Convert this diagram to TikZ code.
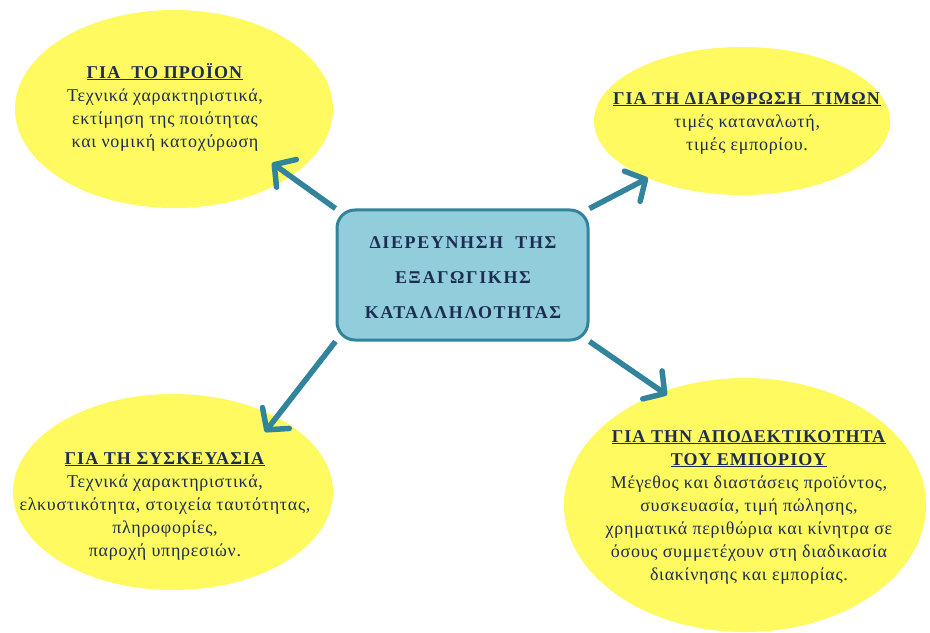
\documentclass[tikz,border=0pt]{standalone}
\usepackage{fontspec}
\setmainfont{Liberation Serif}
\usetikzlibrary{arrows.meta,shapes.geometric}
\definecolor{ylw}{RGB}{255,250,95}
\definecolor{boxfill}{RGB}{146,205,220}
\definecolor{arrowc}{RGB}{49,132,155}
\definecolor{txt}{RGB}{28,44,82}
\newcommand{\ttl}[1]{\underline{\textbf{\addfontfeature{LetterSpace=6}#1}}}
\begin{document}
\begin{tikzpicture}[x=1bp,y=-1bp,
  bubble/.style={ellipse, fill=ylw, draw=none, inner sep=0pt},
  txtnode/.style={text=txt, align=center, inner sep=0pt,
    font=\fontsize{18bp}{23bp}\selectfont\addfontfeature{LetterSpace=4}},
  hub/.style={rectangle, rounded corners=18bp, fill=boxfill, draw=arrowc,
    line width=3bp, minimum width=251bp, minimum height=130bp},
  hubtext/.style={text=txt, align=center, inner sep=0pt,
    font=\fontsize{18bp}{35bp}\selectfont\bfseries\addfontfeature{LetterSpace=9}},
  conn/.style={draw=arrowc, line width=5.5bp, line join=round,
    -{Straight Barb[length=15bp,width=34bp,round]}}]
\useasboundingbox (0,0) rectangle (930,633);
\fill[white] (0,0) rectangle (930,633);
% ellipses
\node[bubble, minimum width=318bp, minimum height=198bp] (e1) at (174,109) {};
\node[bubble, minimum width=296bp, minimum height=148bp] (e2) at (742,121) {};
\node[bubble, minimum width=320bp, minimum height=196bp] (e3) at (173,492) {};
\node[bubble, minimum width=362bp, minimum height=254bp] (e4) at (745,505) {};
% texts
\node[txtnode] (l1) at (165,107) {\ttl{ΓΙΑ\ \ ΤΟ ΠΡΟΪΟΝ}\\Τεχνικά χαρακτηριστικά,\\εκτίμηση της ποιότητας\\και νομική κατοχύρωση};
\node[txtnode] (l2) at (747,123) {\ttl{ΓΙΑ ΤΗ ΔΙΑΡΘΡΩΣΗ\ \ ΤΙΜΩΝ}\\τιμές καταναλωτή,\\τιμές εμπορίου.};
\node[txtnode] (l3) at (165,506) {\ttl{ΓΙΑ ΤΗ ΣΥΣΚΕΥΑΣΙΑ}\\Τεχνικά χαρακτηριστικά,\\ελκυστικότητα, στοιχεία ταυτότητας,\\πληροφορίες,\\παροχή υπηρεσιών.};
\node[txtnode] (l4) at (749,507) {\ttl{ΓΙΑ ΤΗΝ ΑΠΟΔΕΚΤΙΚΟΤΗΤΑ}\\\ttl{ΤΟΥ ΕΜΠΟΡΙΟΥ}\\Μέγεθος και διαστάσεις προϊόντος,\\συσκευασία, τιμή πώλησης,\\χρηματικά περιθώρια και κίνητρα σε\\όσους συμμετέχουν στη διαδικασία\\διακίνησης και εμπορίας.};
% hub
\node[hub] (c) at (462.5,275) {};
\node[hubtext] (ct) at (463,278) {ΔΙΕΡΕΥΝΗΣΗ\ \ ΤΗΣ\\ΕΞΑΓΩΓΙΚΗΣ\\ΚΑΤΑΛΛΗΛΟΤΗΤΑΣ};
% arrow tips
\coordinate (t1) at (272,163);
\coordinate (t2) at (648,178);
\coordinate (t3) at (265,432);
\coordinate (t4) at (667,395);
\draw[conn] (c.north west) -- (t1);
\draw[conn] (c.north east) -- (t2);
\draw[conn] (c.south west) -- (t3);
\draw[conn] (c.south east) -- (t4);
\end{tikzpicture}
\end{document}
